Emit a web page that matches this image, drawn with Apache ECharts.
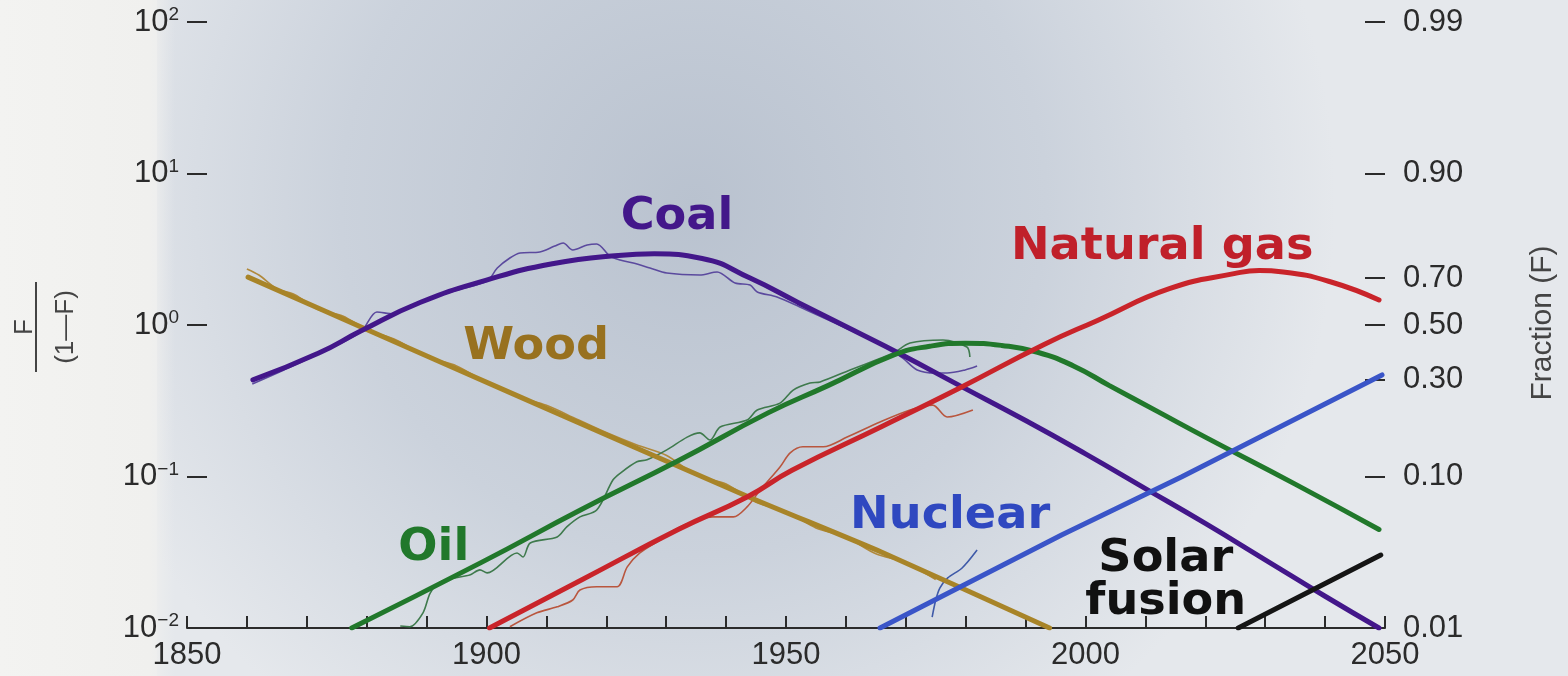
<!DOCTYPE html>
<html>
<head>
<meta charset="utf-8">
<script src="https://cdn.jsdelivr.net/npm/echarts@6/dist/echarts.min.js"></script>
<style>
html,body{margin:0;padding:0;background:#eceeef;}
#chart{width:1568px;height:676px;}
</style>
</head>
<body>
<div id="chart"></div>
<script>
// ---------------- DATA (F/(1-F) values) ----------------
// Smooth model curves
const woodYears   = [1860.2, 1880, 1905, 1943.5, 1966, 1994];
const woodValues  = [2.07, 0.933, 0.343, 0.0741, 0.0316, 0.0100];

const coalYears   = [1861, 1872, 1879, 1889, 1900, 1911, 1922, 1928, 1936, 1944, 1952, 1961, 1969, 1979, 1990, 2000, 2010, 2020, 2030, 2040, 2049];
const coalValues  = [0.434, 0.653, 0.912, 1.413, 1.98, 2.54, 2.88, 2.95, 2.75, 2.04, 1.41, 0.933, 0.646, 0.398, 0.234, 0.141, 0.0832, 0.0490, 0.0282, 0.0162, 0.0100];

const oilYears    = [1877.5, 1899, 1916, 1932, 1947, 1957, 1968, 1974, 1980, 1986, 1992, 1998, 2004, 2012, 2020, 2035, 2049];
const oilValues   = [0.0100, 0.0269, 0.0610, 0.127, 0.263, 0.398, 0.634, 0.724, 0.759, 0.733, 0.661, 0.537, 0.398, 0.269, 0.182, 0.0891, 0.0447];

const gasYears    = [1900.5, 1916, 1932, 1943.5, 1951, 1966, 1979, 1993, 2002, 2014, 2025, 2029, 2033, 2041, 2049];
const gasValues   = [0.0100, 0.0209, 0.0447, 0.0733, 0.110, 0.214, 0.384, 0.741, 1.072, 1.738, 2.19, 2.29, 2.24, 1.923, 1.462];

const nuclearYears  = [1965.7, 1996, 2016, 2049.5];
const nuclearValues = [0.0100, 0.0411, 0.0993, 0.468];

const solarYears  = [2025.5, 2049.3];
const solarValues = [0.0100, 0.0303];

// Historical (thin, noisy) data
const woodHistYears  = [1860, 1862, 1865, 1868, 1872, 1876, 1880, 1885, 1890, 1895, 1900, 1905, 1910, 1915, 1920, 1925, 1930, 1935, 1940, 1945, 1950, 1955, 1960, 1965, 1970, 1975];
const woodHistValues = [2.344, 2.138, 1.738, 1.585, 1.259, 1.148, 0.933, 0.794, 0.617, 0.537, 0.417, 0.339, 0.295, 0.240, 0.195, 0.162, 0.138, 0.102, 0.0891, 0.0676, 0.0589, 0.0457, 0.0398, 0.0309, 0.0269, 0.0209];

const coalHistYears  = [1860.9, 1866, 1872, 1879, 1881.7, 1884.4, 1888.9, 1895, 1900.1, 1901.8, 1903.9, 1905.6, 1908.9, 1911.4, 1912.8, 1914.4, 1916.8, 1918.4, 1920.6, 1922.3, 1924.5, 1927.3, 1930.1, 1935.6, 1938.5, 1941.5, 1944, 1945.2, 1948.5, 1952.3, 1960.7, 1967.4, 1969.5, 1971.9, 1974.9, 1976.9, 1979.9, 1981.9];
const coalHistValues = [0.408, 0.501, 0.646, 0.899, 1.219, 1.183, 1.419, 1.698, 1.950, 2.377, 2.767, 2.985, 3.034, 3.319, 3.475, 3.126, 3.373, 3.428, 2.851, 2.685, 2.564, 2.377, 2.203, 2.138, 2.239, 1.892, 1.837, 1.652, 1.531, 1.315, 0.927, 0.684, 0.605, 0.505, 0.482, 0.482, 0.505, 0.536];

const oilHistYears  = [1885.6, 1887.2, 1889.4, 1890.6, 1892.2, 1894.7, 1897.2, 1898.9, 1900.1, 1905.1, 1906.1, 1907.3, 1911.8, 1913.4, 1915.6, 1918.4, 1921.1, 1922.3, 1925.1, 1926.8, 1930.1, 1933.5, 1935.6, 1937.3, 1939, 1943.5, 1945.2, 1949, 1951.2, 1954, 1955.7, 1960.7, 1967.9, 1970.7, 1976.2, 1980.2, 1980.7];
const oilHistValues = [0.0103, 0.0102, 0.0126, 0.0170, 0.0200, 0.0214, 0.0224, 0.0242, 0.0231, 0.0313, 0.0294, 0.0364, 0.0399, 0.0465, 0.0541, 0.0601, 0.0948, 0.105, 0.125, 0.129, 0.150, 0.182, 0.194, 0.174, 0.212, 0.236, 0.275, 0.305, 0.372, 0.414, 0.421, 0.505, 0.653, 0.760, 0.796, 0.716, 0.615];

const gasHistYears  = [1903.9, 1908.4, 1911.8, 1914.4, 1915.6, 1918.4, 1921.8, 1923.5, 1925.6, 1929, 1932.3, 1937.8, 1941.2, 1943.5, 1945.7, 1949, 1950.7, 1952.8, 1956.2, 1960.2, 1965.7, 1970.7, 1974.5, 1976.9, 1981.2];
const gasHistValues = [0.0102, 0.0126, 0.0138, 0.0153, 0.0178, 0.0187, 0.0187, 0.0253, 0.0313, 0.0381, 0.0465, 0.0541, 0.0541, 0.0630, 0.0815, 0.1156, 0.143, 0.157, 0.157, 0.182, 0.229, 0.275, 0.296, 0.247, 0.275];

const nuclearHistYears  = [1974.4, 1975, 1975.7, 1977, 1979.4, 1981.9];
const nuclearHistValues = [0.0118, 0.0153, 0.0184, 0.0214, 0.0249, 0.0327];

// Curve labels (anchor = centre of text, in data coordinates)
const labelNames  = ['Coal', 'Wood', 'Natural gas', 'Oil', 'Nuclear', 'Solar\nfusion'];
const labelYears  = [1931.8, 1908.3, 2012.8, 1891.2, 1977.4, 2013.4];
const labelValues = [5.08, 0.705, 3.22, 0.0332, 0.054, 0.0204];

// Right-hand fraction axis: labels and their log10(F/(1-F)) positions as drawn
const fractionLabels = ['0.99', '0.90', '0.70', '0.50', '0.30', '0.10', '0.01'];
const fractionLevels = [2, 1, 0.31, 0, -0.36, -1, -2];

// x axis range and ticks
const xMin = 1850, xMax = 2050, xMajor = 50, xMinor = 10;

// ---------------- STYLE ----------------
const C = {
  coal: '#43178a', wood: '#a88428', oil: '#21782b', gas: '#c9242a', nuclear: '#3a55c8', solar: '#151515',
  coalThin: '#5b4a9e', woodThin: '#b0893c', oilThin: '#3f7a4d', gasThin: '#b9563e', nuclearThin: '#3f5aa8'
};
const labelColors = [C.coal, '#98711f', '#c0202a', C.oil, '#2f48c0', '#111111'];
const axisColor = '#2b2b2b';
const tickFont = 'Liberation Sans';

const zip = (xs, ys) => xs.map((x, i) => [x, ys[i]]);

function thick(name, xs, ys, color, smooth) {
  return {
    name, type: 'line', data: zip(xs, ys), smooth: smooth, showSymbol: false, z: 3,
    lineStyle: { color, width: 5, cap: 'round' }, silent: true
  };
}
function thin(name, xs, ys, color) {
  return {
    name, type: 'line', data: zip(xs, ys), smooth: 0.3, showSymbol: false, z: 2,
    lineStyle: { color, width: 1.6 }, silent: true
  };
}

const chart = echarts.init(document.getElementById('chart'), null, { renderer: 'canvas' });

const option = {
  animation: false,
  backgroundColor: '#eceeef',
  grid: { left: 187, right: 183, top: 22, bottom: 48, containLabel: false },
  xAxis: {
    type: 'value', min: xMin, max: xMax, interval: xMinor,
    axisLine: { show: true, onZero: false, lineStyle: { color: axisColor, width: 2 } },
    axisTick: { show: true, inside: true, length: 12, lineStyle: { color: axisColor, width: 2 } },
    axisLabel: {
      formatter: v => (Math.round(v) % xMajor === 0 ? String(Math.round(v)) : ''),
      fontSize: 31, fontFamily: tickFont, color: axisColor, margin: 12
    },
    splitLine: { show: false }
  },
  yAxis: [
    {
      type: 'log', logBase: 10, min: 0.01, max: 100, position: 'left',
      axisLine: { show: false, onZero: false },
      axisTick: { show: true, inside: true, length: 20, lineStyle: { color: axisColor, width: 2 } },
      axisLabel: {
        margin: 8,
        formatter: v => {
          const e = Math.round(Math.log10(v));
          return '{b|10}{s|' + (e < 0 ? '\u2212' + (-e) : e) + '}';
        },
        rich: {
          b: { fontSize: 31, fontFamily: tickFont, color: axisColor },
          s: { fontSize: 19, fontFamily: tickFont, color: axisColor, padding: [0, 0, 14, 0] }
        }
      },
      splitLine: { show: false }
    },
    {
      type: 'value', min: -2, max: 2, position: 'right',
      axisLine: { show: false, onZero: false },
      axisTick: { show: true, inside: true, length: 20, customValues: fractionLevels,
                  lineStyle: { color: axisColor, width: 2 } },
      axisLabel: {
        customValues: fractionLevels, margin: 18,
        fontSize: 31, fontFamily: tickFont, color: axisColor,
        formatter: v => {
          let best = 0, d = Infinity;
          fractionLevels.forEach((p, i) => { if (Math.abs(p - v) < d) { d = Math.abs(p - v); best = i; } });
          return fractionLabels[best];
        }
      },
      splitLine: { show: false }
    }
  ],
  graphic: [
    { type: 'rect', z: -10, silent: true, shape: { x: 157, y: 0, width: 1411, height: 676 },
      style: { fill: { type: 'radial', x: 0.38, y: 0.3, r: 0.95,
        colorStops: [ { offset: 0, color: '#b9c2cf' }, { offset: 0.55, color: '#cbd2dc' }, { offset: 1, color: '#e5e8ec' } ] } } },
    { type: 'rect', z: -9, silent: true, shape: { x: 0, y: 0, width: 175, height: 676 },
      style: { fill: { type: 'linear', x: 0, y: 0, x2: 1, y2: 0,
        colorStops: [ { offset: 0, color: '#f3f3f1' }, { offset: 0.85, color: '#f0f0ee' }, { offset: 1, color: 'rgba(236,237,238,0)' } ] } } },
    { type: 'group', x: 42, y: 327, rotation: Math.PI / 2, silent: true, z: 10,
      children: [
        { type: 'text', x: 0, y: -17, style: { text: 'F', font: '26px "Liberation Sans"', fill: '#444', align: 'center', verticalAlign: 'middle' } },
        { type: 'line', shape: { x1: -45, y1: -6, x2: 45, y2: -6 }, style: { stroke: '#444', lineWidth: 2 } },
        { type: 'text', x: 0, y: 24, style: { text: '(1\u2014F)', font: '26px "Liberation Sans"', fill: '#444', align: 'center', verticalAlign: 'middle' } }
      ] },
    { type: 'text', x: 1543, y: 323, rotation: Math.PI / 2, silent: true, z: 10,
      style: { text: 'Fraction (F)', font: '30px "Liberation Sans"', fill: '#444', align: 'center', verticalAlign: 'middle' } }
  ],
  series: [
    thin('Wood data', woodHistYears, woodHistValues, C.woodThin),
    thin('Coal data', coalHistYears, coalHistValues, C.coalThin),
    thin('Oil data', oilHistYears, oilHistValues, C.oilThin),
    thin('Gas data', gasHistYears, gasHistValues, C.gasThin),
    thin('Nuclear data', nuclearHistYears, nuclearHistValues, C.nuclearThin),
    thick('Wood', woodYears, woodValues, C.wood, 0.2),
    thick('Coal', coalYears, coalValues, C.coal, 0.5),
    thick('Oil', oilYears, oilValues, C.oil, 0.5),
    thick('Natural gas', gasYears, gasValues, C.gas, 0.5),
    thick('Nuclear', nuclearYears, nuclearValues, C.nuclear, false),
    thick('Solar fusion', solarYears, solarValues, C.solar, false),
    {
      type: 'custom', name: 'labels', silent: true, z: 6, clip: false,
      data: labelNames.map((n, i) => [labelYears[i], labelValues[i], i]),
      renderItem: (params, api) => {
        const i = api.value(2);
        const p = api.coord([api.value(0), api.value(1)]);
        return {
          type: 'text', x: p[0], y: p[1], scaleX: 1.05,
          style: { text: labelNames[i], fill: labelColors[i], font: 'bold 44px "DejaVu Sans"',
                   align: 'center', verticalAlign: 'middle', lineHeight: 43 }
        };
      }
    }
  ]
};
chart.setOption(option);
</script>
</body>
</html>
